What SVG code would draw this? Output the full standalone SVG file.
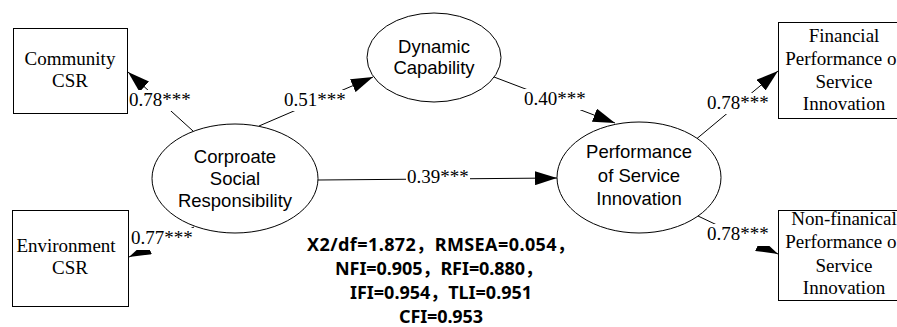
<svg xmlns="http://www.w3.org/2000/svg" width="897" height="327" viewBox="0 0 897 327">
<defs>
<style>
.box{fill:#fff;stroke:#000;stroke-width:1}
.ell{fill:#fff;stroke:#000;stroke-width:1}
.tr{font-family:"Liberation Serif","Times New Roman",serif;font-size:19px;fill:#000;text-anchor:middle}
.ar{font-family:"Liberation Sans",Arial,sans-serif;font-size:18.5px;fill:#000;text-anchor:middle}
.lbl{font-family:"Liberation Serif","Times New Roman",serif;font-size:19px;fill:#000}
.bg{fill:#fff}
.conn{stroke:#000;stroke-width:1;fill:none;marker-end:url(#arr)}
.fit{font-family:"Noto Sans","Noto Sans CJK SC",sans-serif;font-weight:bold;font-size:18px;fill:#000}
</style>
<marker id="arr" markerUnits="userSpaceOnUse" markerWidth="22" markerHeight="14" refX="22" refY="7" orient="auto">
<path d="M0,0 L22,7 L0,14 z" fill="#000"/>
</marker>
</defs>
<rect width="897" height="327" fill="#fff"/>

<g id="community-csr">
<rect class="box" x="13.5" y="28.5" width="114" height="85"/>
<text class="tr" x="70" y="65">Community</text>
<text class="tr" x="70" y="87">CSR</text>
</g>
<g id="environment-csr">
<rect class="box" x="12.5" y="210.5" width="116" height="96"/>
<text class="tr" x="66" y="252">Environment</text>
<text class="tr" x="70" y="274">CSR</text>
</g>
<g id="csr">
<ellipse class="ell" cx="235" cy="178.5" rx="83" ry="54.5"/>
<text class="ar" x="235" y="163">Corproate</text>
<text class="ar" x="235" y="185">Social</text>
<text class="ar" x="235" y="207">Responsibility</text>
</g>
<g id="dynamic-capability">
<ellipse class="ell" cx="434" cy="57.5" rx="67" ry="44.5"/>
<text class="ar" x="434" y="53">Dynamic</text>
<text class="ar" x="434" y="74">Capability</text>
</g>
<g id="performance">
<ellipse class="ell" cx="639" cy="177.5" rx="82" ry="55.5"/>
<text class="ar" x="639" y="158">Performance</text>
<text class="ar" x="639" y="181.5">of Service</text>
<text class="ar" x="639" y="205">Innovation</text>
</g>
<g id="financial">
<rect class="box" x="778.5" y="22.5" width="130" height="96"/>
<text class="tr" x="844" y="42">Financial</text>
<text class="tr" x="844" y="65">Performance of</text>
<text class="tr" x="844" y="88">Service</text>
<text class="tr" x="844" y="110">Innovation</text>
</g>
<g id="non-financial">
<rect class="box" x="778.5" y="210.5" width="130" height="90"/>
<text class="tr" x="844" y="225">Non-finanical</text>
<text class="tr" x="844" y="248">Performance of</text>
<text class="tr" x="844" y="272">Service</text>
<text class="tr" x="844" y="294">Innovation</text>
</g>

<g id="connectors">
<line class="conn" x1="193" y1="131" x2="128" y2="72"/>
<line class="conn" x1="194" y1="227" x2="129" y2="257"/>
<line class="conn" x1="259" y1="126" x2="373" y2="77"/>
<line class="conn" x1="494" y1="77" x2="615" y2="123"/>
<line class="conn" x1="318" y1="180" x2="557" y2="178"/>
<line class="conn" x1="697" y1="138.5" x2="778" y2="71"/>
<line class="conn" x1="698" y1="216" x2="778" y2="254"/>

<rect class="bg" x="129" y="90" width="64" height="21"/>
<text class="lbl" x="129" y="106">0.78***</text>
<rect class="bg" x="130" y="228" width="64" height="22"/>
<text class="lbl" x="131" y="244">0.77***</text>
<rect class="bg" x="283" y="90" width="64" height="21"/>
<text class="lbl" x="284" y="106">0.51***</text>
<rect class="bg" x="523" y="89" width="64" height="21"/>
<text class="lbl" x="524" y="105">0.40***</text>
<rect class="bg" x="406" y="167" width="64" height="21"/>
<text class="lbl" x="407" y="183">0.39***</text>
<rect class="bg" x="706" y="93" width="64" height="21"/>
<text class="lbl" x="707" y="109">0.78***</text>
<rect class="bg" x="706" y="224" width="64" height="22"/>
<text class="lbl" x="707" y="240">0.78***</text>
</g>

<g id="fit-indices">
<text class="fit" x="307" y="251" textLength="268" lengthAdjust="spacing">X2/df=1.872，RMSEA=0.054，</text>
<text class="fit" x="335" y="275" textLength="208" lengthAdjust="spacing">NFI=0.905，RFI=0.880，</text>
<text class="fit" x="350" y="299" textLength="182" lengthAdjust="spacing">IFI=0.954，TLI=0.951</text>
<text class="fit" x="399" y="323" textLength="84" lengthAdjust="spacing">CFI=0.953</text>
</g>
</svg>
